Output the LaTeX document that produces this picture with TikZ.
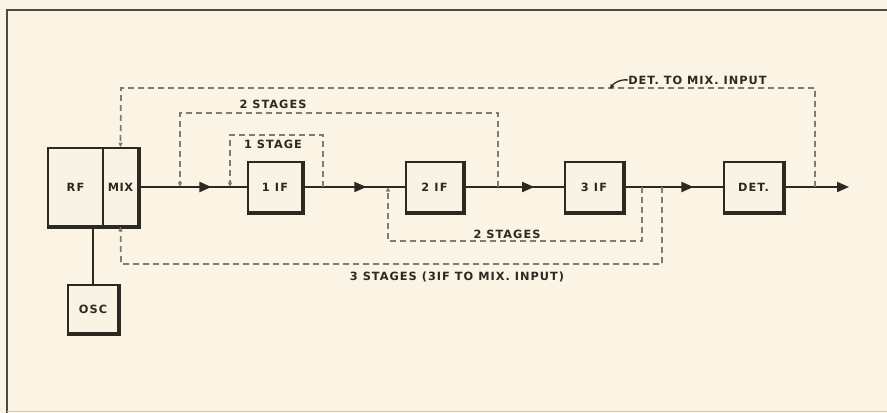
\documentclass[tikz,border=0pt]{standalone}
\usepackage{fontspec}
\setmainfont{DejaVu Sans}
\usetikzlibrary{arrows.meta,decorations.markings}
\definecolor{paper}{HTML}{FBF3E3}
\definecolor{boxfill}{HTML}{F8F3E4}
\definecolor{ink}{HTML}{2B2A22}
\definecolor{dashink}{HTML}{7E7E70}
\tikzset{
  blk/.style={draw=ink, line width=1pt, fill=boxfill, inner sep=0pt,
    font=\bfseries\fontsize{8.5}{9}\selectfont\addfontfeature{LetterSpace=10}, text=ink},
  shadowedge/.style={ink, line width=2.4pt, line cap=rect},
  mainline/.style={ink, line width=1.5pt},
  midarrow/.style={postaction={decorate}, decoration={markings,
    mark=at position #1 with {\arrow{Triangle[length=9pt,width=7.5pt]}}}},
  fb/.style={dashink, line width=1.3pt, dash pattern=on 4.5pt off 3pt,
    -{Triangle[length=3.5pt,width=3pt]}},
  lbl/.style={font=\bfseries\fontsize{8.5}{9}\selectfont\addfontfeature{LetterSpace=9}, text=ink, inner sep=0pt},
}
\begin{document}
\begin{tikzpicture}[x=0.75pt,y=-0.75pt]
\useasboundingbox (0,0) rectangle (887,413);
\fill[paper] (0,0) rectangle (887,413);
% frame
\draw[ink!85, line width=2.2pt] (887,10) -- (7,10) -- (7,413);
\draw[ink!25, line width=1pt] (7,411.5) -- (887,411.5);

% blocks
\node[blk, minimum width=41.25pt, minimum height=58.5pt] (rf) at (75.5,187) {RF};
\node[blk, minimum width=26.25pt, minimum height=58.5pt] (mix) at (120.5,187) {\addfontfeature{LetterSpace=4}MIX};
\node[blk, minimum width=40.5pt, minimum height=37.5pt] (if1) at (275,187) {1 IF};
\node[blk, minimum width=42.75pt, minimum height=37.5pt] (if2) at (434.5,187) {2 IF};
\node[blk, minimum width=43.5pt, minimum height=37.5pt] (if3) at (594,187) {3 IF};
\node[blk, minimum width=44.25pt, minimum height=37.5pt] (det) at (753.5,187) {DET.};
\node[blk, minimum width=37.5pt, minimum height=36pt] (osc) at (93,309) {OSC};

% heavy shadow edges (right and bottom)
\foreach \n in {if1,if2,if3,det,osc}{
  \draw[shadowedge] ([xshift=0.9pt,yshift=-0.9pt]\n.south west) -- ([xshift=0.9pt,yshift=-0.9pt]\n.south east) -- ([xshift=0.9pt,yshift=-0.9pt]\n.north east);
}
\draw[shadowedge] ([xshift=0.9pt,yshift=-0.9pt]rf.south west) -- ([xshift=0.9pt,yshift=-0.9pt]mix.south east) -- ([xshift=0.9pt,yshift=-0.9pt]mix.north east);

% main signal path
\coordinate (out) at (849,187);
\draw[mainline] (rf.south -| osc.north) -- (osc.north);
\draw[mainline, midarrow=0.67] (mix.east) -- (if1.west);
\draw[mainline, midarrow=0.62] (if1.east) -- (if2.west);
\draw[mainline, midarrow=0.70] (if2.east) -- (if3.west);
\draw[mainline, midarrow=0.70] (if3.east) -- (det.west);
\draw[mainline, -{Triangle[length=9pt,width=7.5pt]}] (det.east) -- (out);

% feedback taps on main line
\coordinate (tDet) at (815,187);
\coordinate (tA) at (180,187);
\coordinate (tB) at (230,187);
\coordinate (tC) at (323,187);
\coordinate (tD) at (498,187);
\coordinate (tE) at (388,187);
\coordinate (tF) at (642,187);
\coordinate (tG) at (662,187);

% feedback loops (dashed)
\draw[fb] (tDet) -- (815,88) -- (121,88) -- (mix.north);
\draw[fb] (tD) -- (498,113) -- (180,113) -- (tA);
\draw[fb] (tC) -- (323,135) -- (230,135) -- (tB);
\draw[fb] (tF) -- (642,241) -- (388,241) -- (tE);
\draw[fb] (tG) -- (662,264) -- (121,264) -- (mix.south);

% labels
\node[lbl] (l2top) at (273,104) {2 STAGES};
\node[lbl] (l1) at (273,144) {1 STAGE};
\node[lbl, anchor=west] (ldet) at (628,80) {DET. TO MIX. INPUT};
\draw[ink, line width=1pt, -{Triangle[length=3.5pt,width=3pt]}] (ldet.west) .. controls (620,79) and (614,83) .. (610,89);
\node[lbl] (l2bot) at (507,234) {2 STAGES};
\node[lbl] (l3) at (457,277) {3 STAGES (3IF TO MIX. INPUT)};
\end{tikzpicture}
\end{document}
